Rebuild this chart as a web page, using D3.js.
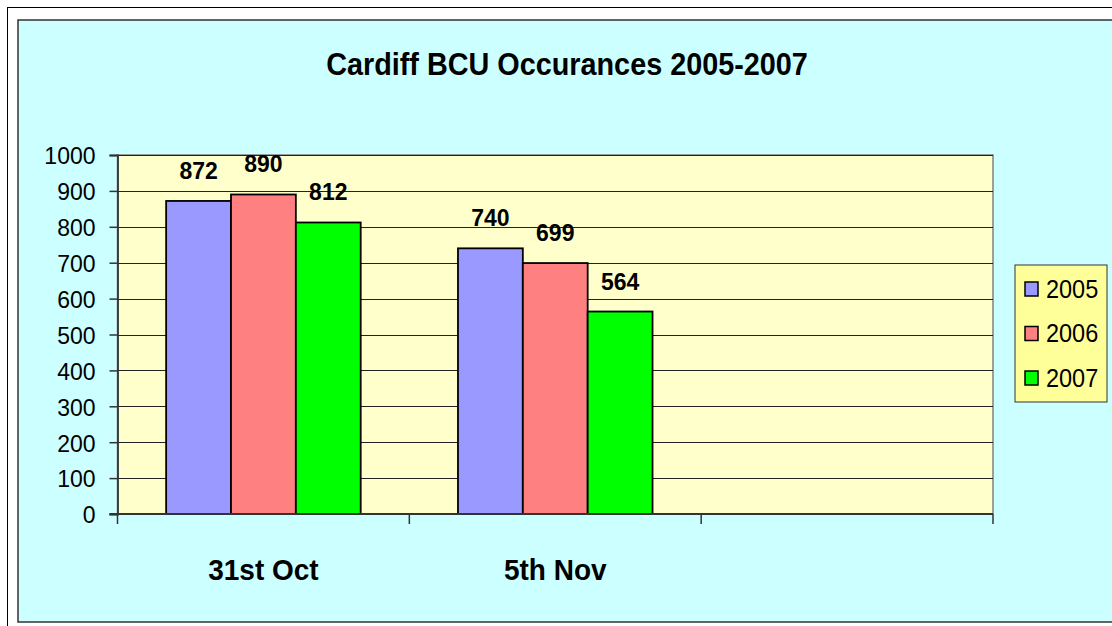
<!DOCTYPE html>
<html>
<head>
<meta charset="utf-8">
<script src="https://cdn.jsdelivr.net/npm/d3@7"></script>
<style>
  html, body { margin: 0; padding: 0; background: #fff; }
  svg { display: block; font-family: 'Liberation Sans', Arial, sans-serif; }
</style>
</head>
<body>
<svg width="1112" height="626"></svg>
<script>
// data
var categories = ['31st Oct', '5th Nov', ''];
var years = ['2005', '2006', '2007'];
var values2005 = [872, 740, null];
var values2006 = [890, 699, null];
var values2007 = [812, 564, null];
var yTicks = [0, 100, 200, 300, 400, 500, 600, 700, 800, 900, 1000];
var colors = ['#9999ff', '#ff8080', '#00ff00'];

var seriesValues = [values2005, values2006, values2007];

var svg = d3.select('svg');
var stretch = 1.08; // text in the original is a bit taller than wide

// outer frame + chart area
svg.append('rect').attr('x', 7.5).attr('y', 7.5).attr('width', 1120).attr('height', 640)
  .style('fill', '#fff').style('stroke', '#000').style('stroke-width', 1);
svg.append('rect').attr('x', 18).attr('y', 20).attr('width', 1110).attr('height', 602)
  .style('fill', '#ccffff').style('stroke', '#333').style('stroke-width', 1.5);

var plot = { left: 117.5, right: 993, top: 155, bottom: 514 };

var x = d3.scaleBand().domain(categories).range([plot.left, plot.right]);
var xs = d3.scaleBand().domain(years).range([0, x.bandwidth()]).paddingInner(0).paddingOuter(0.75);
var y = d3.scaleLinear().domain([0, 1000]).range([plot.bottom, plot.top]);

function stretchText(sel, tx, ty) {
  sel.attr('transform', 'translate(' + tx + ',' + ty + ') scale(1,' + stretch + ')');
}

// plot background
svg.append('rect')
  .attr('x', plot.left).attr('y', plot.top)
  .attr('width', plot.right - plot.left).attr('height', plot.bottom - plot.top)
  .style('fill', '#ffffcc').style('stroke', '#808080').style('stroke-width', 1.5);

// gridlines
svg.append('g').selectAll('line')
  .data(yTicks.filter(function(d) { return d > 0; }))
  .enter().append('line')
  .attr('x1', plot.left).attr('x2', plot.right)
  .attr('y1', function(d) { return Math.round(y(d)) + 0.5; })
  .attr('y2', function(d) { return Math.round(y(d)) + 0.5; })
  .style('stroke', '#222').style('stroke-width', 1);

// bars
var groups = svg.append('g').selectAll('g')
  .data(years)
  .enter().append('g')
  .style('fill', function(d, i) { return colors[i]; });

function rows(yr, i) {
  return categories.map(function(c, j) { return { cat: c, year: yr, v: seriesValues[i][j] }; })
    .filter(function(d) { return d.v != null; });
}

groups.selectAll('rect')
  .data(rows)
  .enter().append('rect')
  .attr('x', function(d) { return x(d.cat) + xs(d.year); })
  .attr('width', xs.bandwidth())
  .attr('y', function(d) { return y(d.v); })
  .attr('height', function(d) { return y(0) - y(d.v); })
  .style('stroke', '#000').style('stroke-width', 1.8);

// value labels
groups.selectAll('text')
  .data(rows)
  .enter().append('text')
  .attr('text-anchor', 'middle')
  .style('fill', '#000').style('font-weight', 'bold').style('font-size', '23px')
  .text(function(d) { return d.v; })
  .each(function(d) {
    stretchText(d3.select(this), x(d.cat) + xs(d.year) + xs.bandwidth() / 2, y(d.v) - 22);
  });

// y axis
var yAxis = svg.append('g').attr('transform', 'translate(' + plot.left + ',0)')
  .call(d3.axisLeft(y).tickValues(yTicks).tickFormat(d3.format('d')).tickSize(8).tickPadding(14));
yAxis.select('.domain').style('stroke', '#333').style('stroke-width', 1.8);
yAxis.selectAll('.tick line').style('stroke', '#333').style('stroke-width', 1.5);
yAxis.selectAll('.tick text')
  .style('font-size', '23px').style('fill', '#000')
  .style('font-family', "'Liberation Sans', Arial, sans-serif")
  .attr('dy', null).attr('dominant-baseline', 'central')
  .attr('transform', 'scale(1,' + stretch + ')')
  .attr('y', 0);

// x axis
var xAxisLine = svg.append('g');
xAxisLine.append('line')
  .attr('x1', plot.left - 8).attr('x2', plot.right)
  .attr('y1', plot.bottom).attr('y2', plot.bottom)
  .style('stroke', '#333').style('stroke-width', 2);
xAxisLine.selectAll('line.tk')
  .data(categories.map(function(c) { return x(c); }).concat([plot.right]))
  .enter().append('line').attr('class', 'tk')
  .attr('x1', function(d) { return d; }).attr('x2', function(d) { return d; })
  .attr('y1', plot.bottom).attr('y2', plot.bottom + 10)
  .style('stroke', '#333').style('stroke-width', 1.5);

svg.append('g').selectAll('text')
  .data(categories.filter(function(c) { return c !== ''; }))
  .enter().append('text')
  .attr('text-anchor', 'middle')
  .style('font-weight', 'bold').style('font-size', '28px')
  .text(function(d) { return d; })
  .each(function(d) { stretchText(d3.select(this), x(d) + x.bandwidth() / 2, 580); });

// title
svg.append('text')
  .attr('text-anchor', 'middle')
  .style('font-weight', 'bold').style('font-size', '28.8px')
  .text('Cardiff BCU Occurances 2005-2007')
  .call(stretchText, 567, 75);

// legend
var legend = svg.append('g');
legend.append('rect')
  .attr('x', 1015).attr('y', 265).attr('width', 92).attr('height', 137)
  .style('fill', '#ffff99').style('stroke', '#333').style('stroke-width', 1);

var ly = d3.scalePoint().domain(years).range([289, 378]);
var items = legend.selectAll('g.item').data(years).enter().append('g').attr('class', 'item');
items.append('rect')
  .attr('x', 1025).attr('width', 13).attr('height', 14)
  .attr('y', function(d) { return ly(d) - 7; })
  .style('fill', function(d, i) { return colors[i]; })
  .style('stroke', '#000').style('stroke-width', 1.5);
items.append('text')
  .style('font-size', '23.5px')
  .attr('dominant-baseline', 'central')
  .text(function(d) { return d; })
  .each(function(d) { stretchText(d3.select(this), 1046, ly(d)); });
</script>
</body>
</html>
